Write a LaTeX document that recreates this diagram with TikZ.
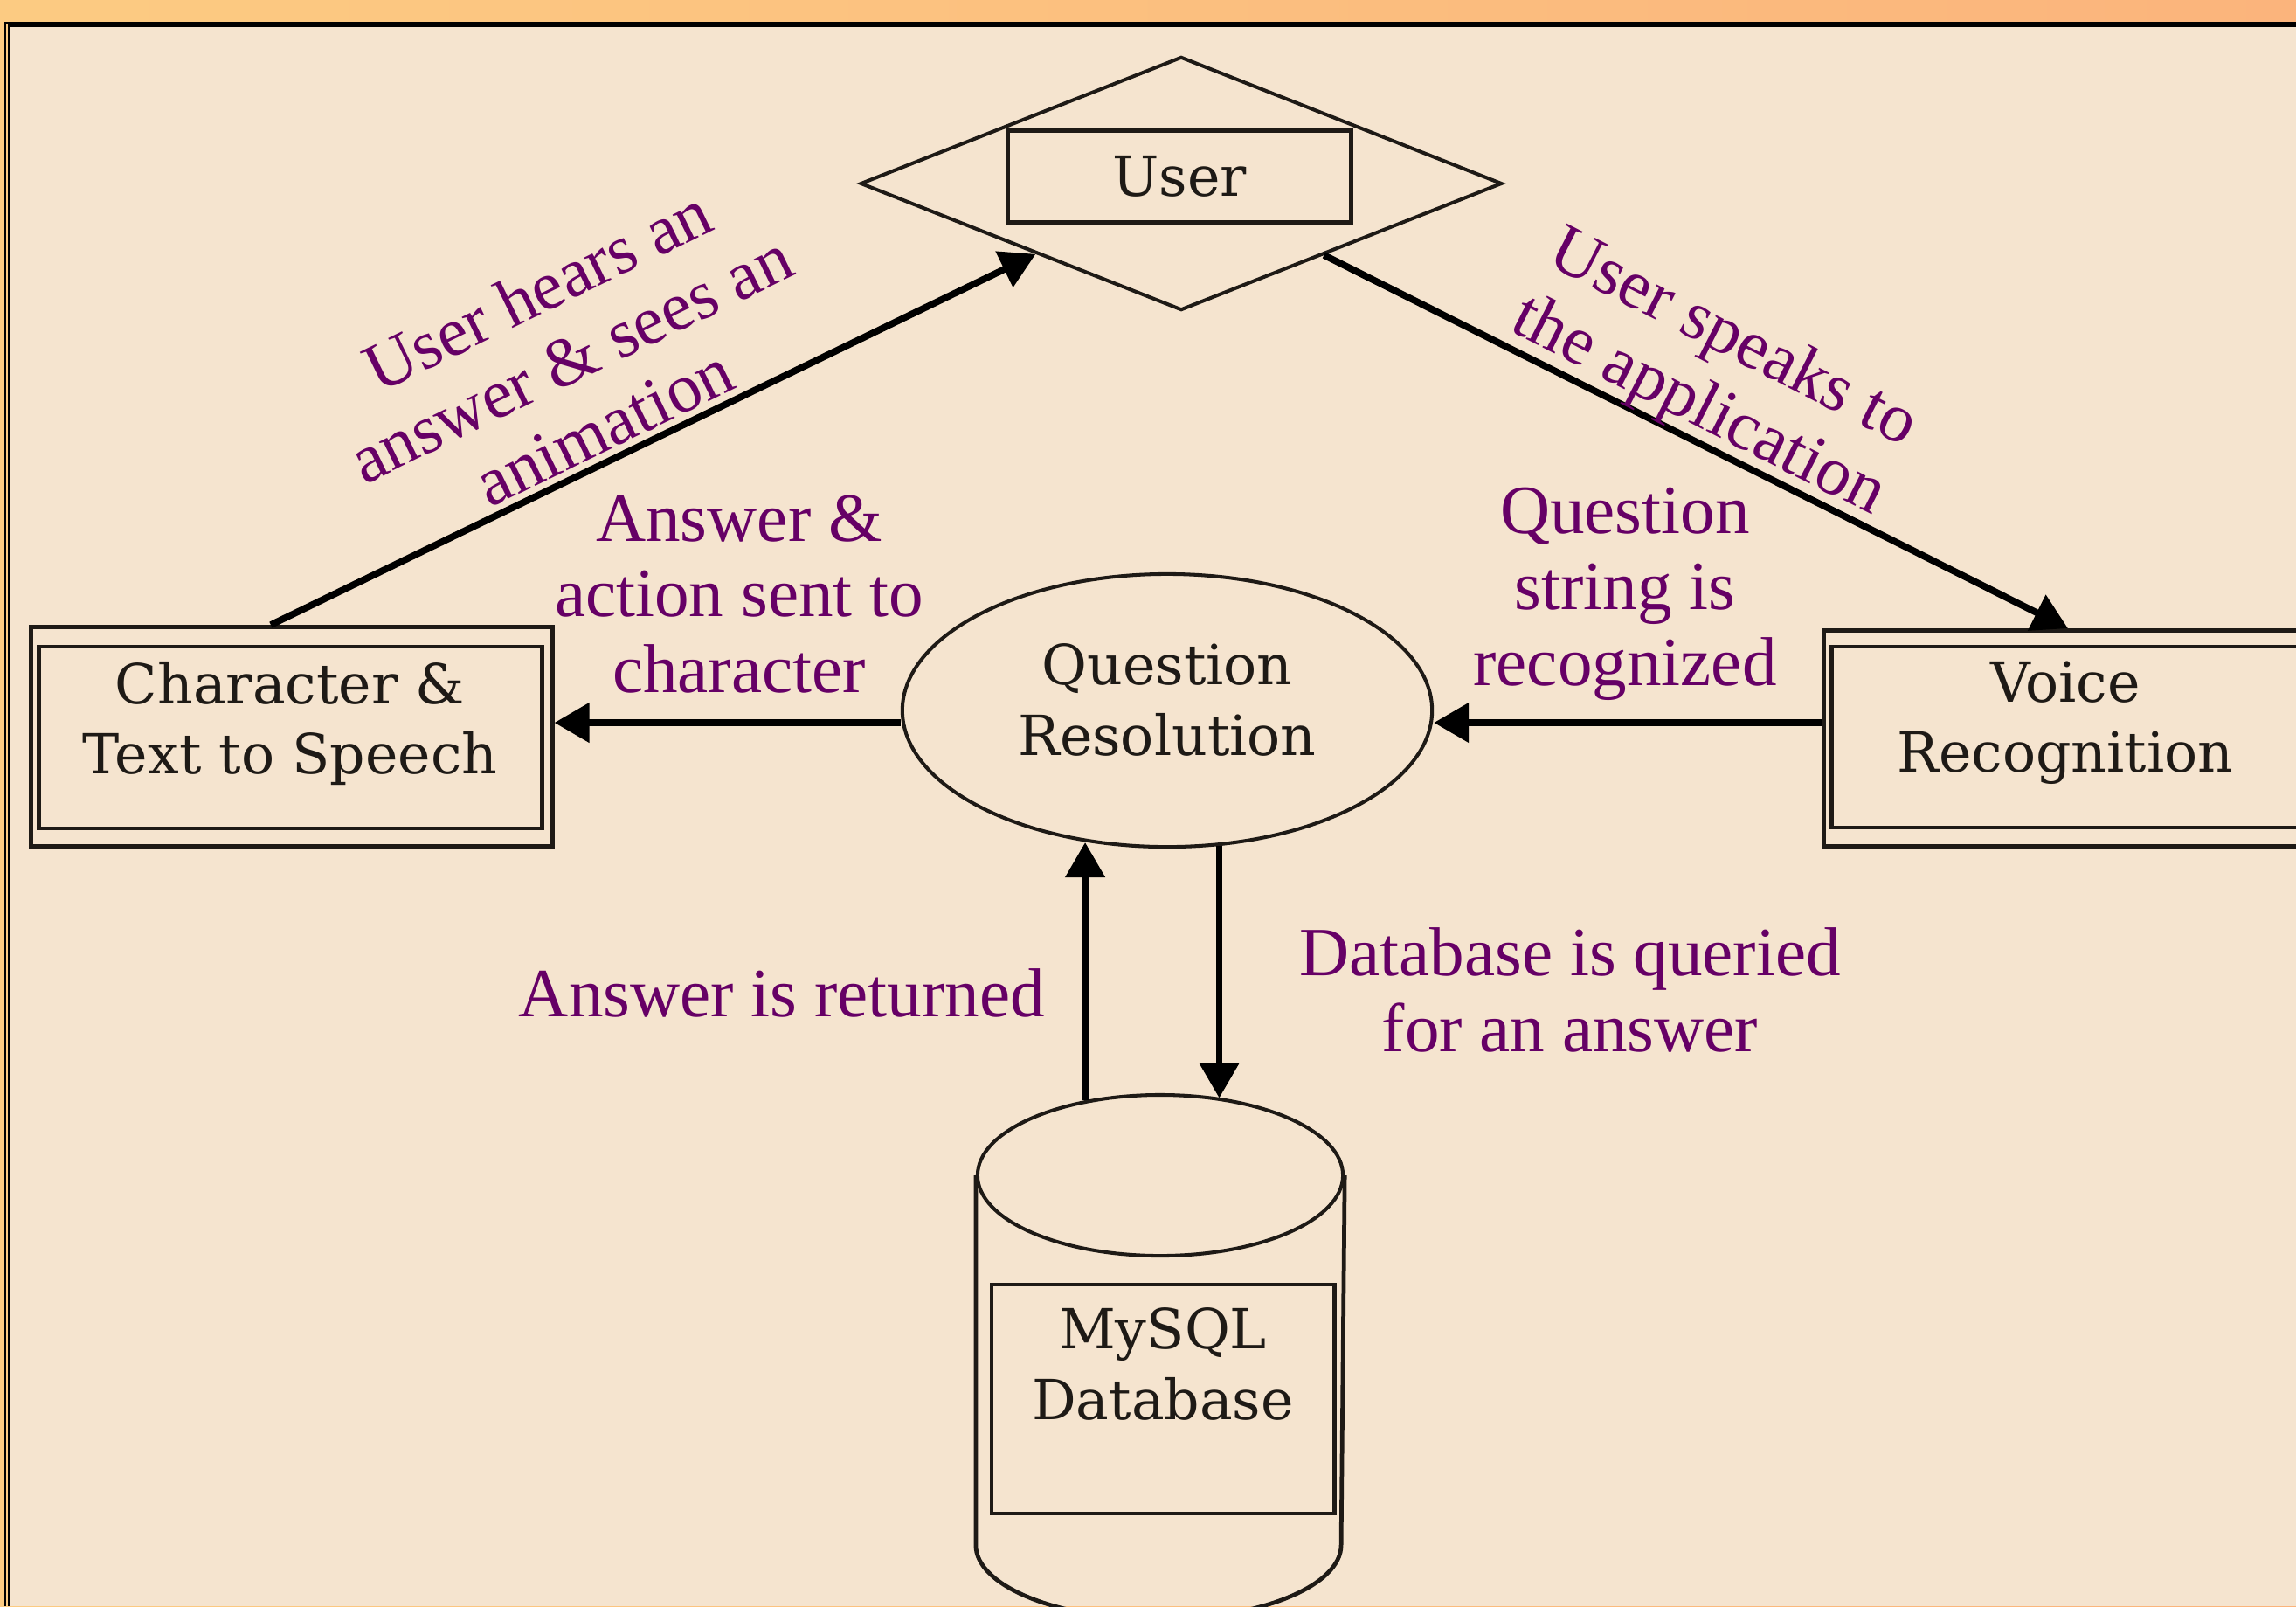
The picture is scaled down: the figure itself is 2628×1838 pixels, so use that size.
\documentclass[tikz,border=0pt]{standalone}
\usepackage{fontspec}
\newfontfamily\boxfont{DejaVu Serif}
\newfontfamily\labelfont{Liberation Serif}
\usetikzlibrary{shapes.geometric,arrows.meta,positioning}

\definecolor{panelbeige}{HTML}{F5E4CF}
\definecolor{stripleft}{HTML}{FCCB82}
\definecolor{stripright}{HTML}{FBB47C}
\definecolor{labelpurple}{HTML}{660066}
\definecolor{boxink}{HTML}{1E1A16}

\tikzset{
  outline/.style={draw=boxink, line width=1.35pt},
  boxtxt/.style={text=boxink, font=\boxfont\fontsize{18}{22.8}\selectfont, align=center},
  lbl/.style={text=labelpurple, font=\labelfont\fontsize{22.5}{24.7}\selectfont, align=center},
  flow/.style={draw=black, line width=2.2pt, -{Triangle[length=0.4cm,width=0.44cm]}},
}

\begin{document}
\begin{tikzpicture}[x=0.01cm, y=-0.01cm]
  \useasboundingbox (0,0) rectangle (2628,1838);
  \clip (0,0) rectangle (2628,1838);

  % slide background and frame
  \shade[left color=stripleft, right color=stripright] (0,0) rectangle (2628,1838);
  \fill[panelbeige] (11,30) rectangle (2628,1838);
  \draw[line width=0.7pt] (6,1838) -- (6,26) -- (2628,26);
  \draw[line width=0.7pt] (10,1838) -- (10,29.5) -- (2628,29.5);

  % user
  \node[diamond, outline, line width=1.15pt, minimum width=7.34cm, minimum height=2.9cm, inner sep=0pt] (user) at (1352,210) {};
  \node[rectangle, outline, boxtxt, minimum width=3.92cm, minimum height=1.05cm] (userbox) at (1350,202) {User};

  % character & text to speech
  \node[rectangle, outline, minimum width=5.96cm, minimum height=2.51cm] (char) at (334,843) {};
  \draw[outline] ([shift={(0.11cm,-0.25cm)}]char.north west) rectangle ([shift={(-0.14cm,0.23cm)}]char.south east);
  \node[boxtxt] (chartxt) at (332,828) {Character \&\\Text to Speech};

  % voice recognition
  \node[rectangle, outline, minimum width=5.58cm, minimum height=2.47cm] (voice) at (2367,845) {};
  \draw[outline] ([shift={(0.11cm,-0.21cm)}]voice.north west) rectangle ([shift={(-0.11cm,0.24cm)}]voice.south east);
  \node[boxtxt] (voicetxt) at (2364,827) {Voice\\Recognition};

  % question resolution
  \node[ellipse, outline, line width=1.15pt, minimum width=6.06cm, minimum height=3.12cm, inner sep=0pt] (qr) at (1336,813) {};
  \node[boxtxt] (qrtxt) at (1336,801) {Question\\Resolution};

  % database cylinder
  \node[ellipse, outline, line width=1.15pt, minimum width=4.18cm, minimum height=1.84cm, inner sep=0pt] (dbcap) at (1328,1345) {};
  \draw[outline] (dbcap.west) -- ++(0,423) arc[start angle=180, end angle=360, x radius=2.09cm, y radius=0.85cm] -- (dbcap.east);
  \node[rectangle, outline, minimum width=3.92cm, minimum height=2.62cm] (dbbox) at (1331,1601) {};
  \node[boxtxt] (dbtxt) at (1331,1561) {MySQL\\Database};

  % flows
  \draw[flow] ([xshift=-0.24cm]char.north) -- (user);
  \draw[flow] (user) -- (voice.north);
  \draw[flow] ([yshift=-0.14cm]qr.west) -- ([yshift=-0.14cm]qr.west -| char.east);
  \draw[flow] ([yshift=-0.14cm]qr.east -| voice.west) -- ([yshift=-0.14cm]qr.east);
  \draw[flow] (dbcap.135) -- (dbcap.135 |- qr.239);
  \draw[flow] (qr.291) -- (qr.291 |- dbcap.51);

  % flow labels
  \node[lbl, rotate=26] (hearlbl) at (653,410) {User hears an\\answer \& sees an\\animation};
  \node[lbl, rotate=-27] (speaklbl) at (1963,428) {User speaks to\\the application};
  \node[lbl] (sentlbl) at (846,680) {Answer \&\\action sent to\\character};
  \node[lbl] (recoglbl) at (1860,680) {Question\\string is\\recognized};
  \node[lbl] (returnlbl) at (895,1136) {Answer is returned};
  \node[lbl] (querylbl) at (1797,1133) {Database is queried\\for an answer};
\end{tikzpicture}
\end{document}
